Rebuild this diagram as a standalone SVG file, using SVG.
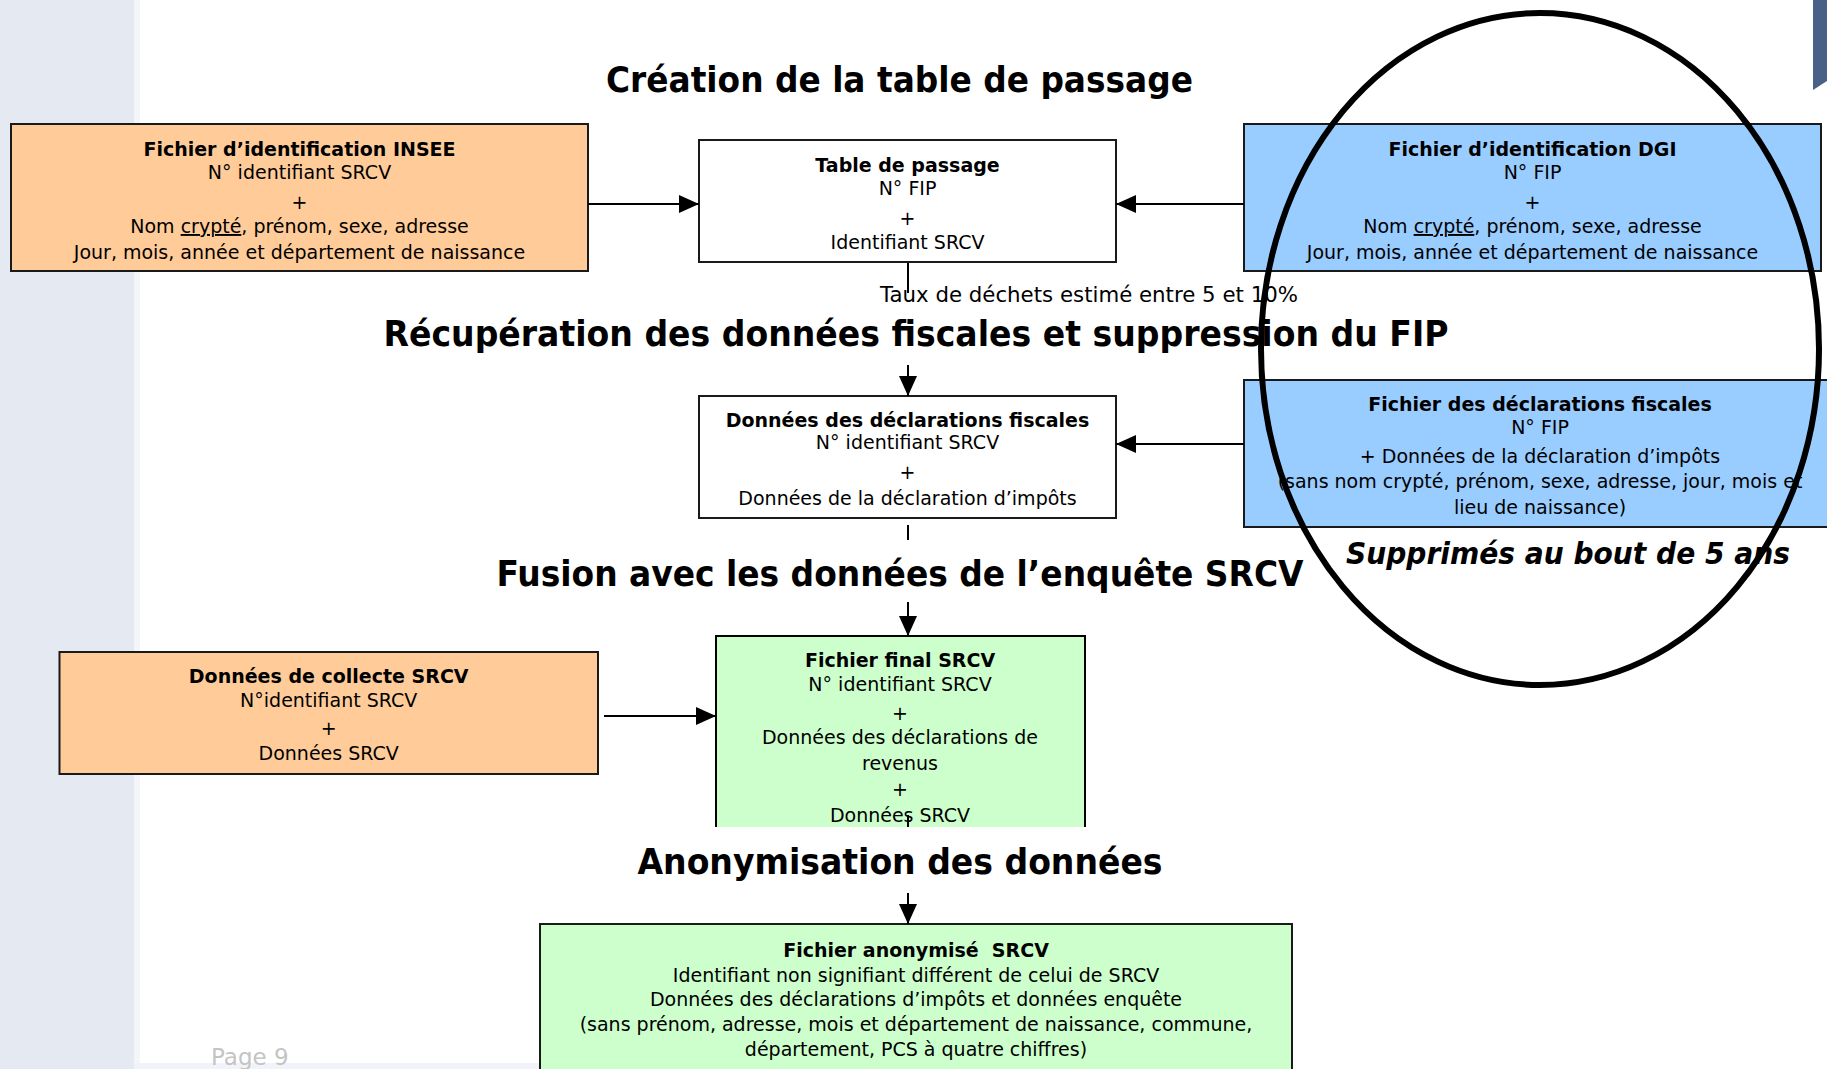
<svg xmlns="http://www.w3.org/2000/svg" width="1827" height="1069" viewBox="0 0 1827 1069">
<defs>
<style>
.box{stroke:#1a1a1a;stroke-width:2}
.orange{fill:#ffcc99}
.blue{fill:#99ccff}
.green{fill:#ccffcc}
.white{fill:#ffffff}
.t{font-family:"DejaVu Sans",Verdana,sans-serif;font-size:19px;fill:#000;text-anchor:middle}
.b{font-weight:bold}
.h{font-family:"DejaVu Sans",Verdana,sans-serif;font-size:35px;font-weight:bold;fill:#000;text-anchor:middle}
.conn{stroke:#000;stroke-width:2;fill:none}
.u{text-decoration:underline}
</style>
<marker id="arr" markerUnits="userSpaceOnUse" markerWidth="20" markerHeight="20" refX="20" refY="9" orient="auto">
<path d="M0,0 L20,9 L0,18 z" fill="#000"/>
</marker>
</defs>
<rect x="0" y="0" width="1827" height="1069" fill="#ffffff"/>
<rect x="0" y="0" width="134" height="1069" fill="#e5e9f2"/>
<rect x="134" y="0" width="6" height="1069" fill="#f3f5f9"/>
<rect x="134" y="1063" width="406" height="6" fill="#f0f4fa"/>
<polygon points="1813,0 1827,0 1827,81 1813,90" fill="#4a6187"/>

<text class="h" x="899.5" y="92" textLength="587" lengthAdjust="spacingAndGlyphs">Création de la table de passage</text>
<text class="h" x="916" y="346" textLength="1065" lengthAdjust="spacingAndGlyphs">Récupération des données fiscales et suppression du FIP</text>
<text class="h" x="900" y="586" textLength="807" lengthAdjust="spacingAndGlyphs">Fusion avec les données de l’enquête SRCV</text>
<text class="h" x="900" y="874" textLength="525" lengthAdjust="spacingAndGlyphs">Anonymisation des données</text>

<g id="insee">
<rect class="box orange" x="11" y="124" width="577" height="147"/>
<text class="t b" x="299.5" y="156">Fichier d’identification INSEE</text>
<text class="t" x="299.5" y="179">N° identifiant SRCV</text>
<text class="t" x="299.5" y="209">+</text>
<text class="t" x="299.5" y="233">Nom <tspan class="u">crypté</tspan>, prénom, sexe, adresse</text>
<text class="t" x="299.5" y="259">Jour, mois, année et département de naissance</text>
</g>

<g id="table">
<rect class="box white" x="699" y="140" width="417" height="122"/>
<text class="t b" x="907.5" y="172">Table de passage</text>
<text class="t" x="907.5" y="195">N° FIP</text>
<text class="t" x="907.5" y="225">+</text>
<text class="t" x="907.5" y="249">Identifiant SRCV</text>
</g>

<g id="dgi">
<rect class="box blue" x="1244" y="124" width="577" height="147"/>
<text class="t b" x="1532.5" y="156">Fichier d’identification DGI</text>
<text class="t" x="1532.5" y="179">N° FIP</text>
<text class="t" x="1532.5" y="209">+</text>
<text class="t" x="1532.5" y="233">Nom <tspan class="u">crypté</tspan>, prénom, sexe, adresse</text>
<text class="t" x="1532.5" y="259">Jour, mois, année et département de naissance</text>
</g>

<g id="taux">
<text x="880" y="302" font-family="DejaVu Sans, Verdana, sans-serif" font-size="22" textLength="418" lengthAdjust="spacingAndGlyphs" fill="#000">Taux de déchets estimé entre 5 et 10%</text>
</g>

<g id="donnees">
<rect class="box white" x="699" y="396" width="417" height="122"/>
<text class="t b" x="907.5" y="427">Données des déclarations fiscales</text>
<text class="t" x="907.5" y="449">N° identifiant SRCV</text>
<text class="t" x="907.5" y="479">+</text>
<text class="t" x="907.5" y="505">Données de la déclaration d’impôts</text>
</g>

<g id="declarations">
<rect class="box blue" x="1244" y="380" width="600" height="147"/>
<text class="t b" x="1540" y="411">Fichier des déclarations fiscales</text>
<text class="t" x="1540" y="434">N° FIP</text>
<text class="t" x="1540" y="463">+ Données de la déclaration d’impôts</text>
<text class="t" x="1540" y="488">(sans nom crypté, prénom, sexe, adresse, jour, mois et</text>
<text class="t" x="1540" y="514">lieu de naissance)</text>
</g>

<g id="collecte">
<rect class="box orange" x="59.5" y="652" width="538.5" height="122"/>
<text class="t b" x="328.7" y="683">Données de collecte SRCV</text>
<text class="t" x="328.7" y="707">N°identifiant SRCV</text>
<text class="t" x="328.7" y="735">+</text>
<text class="t" x="328.7" y="760">Données SRCV</text>
</g>

<g id="final">
<rect class="green" x="716" y="636" width="369" height="191"/>
<path class="conn" d="M716,827 L716,636 L1085,636 L1085,827" stroke="#1a1a1a"/>
<text class="t b" x="900" y="667">Fichier final SRCV</text>
<text class="t" x="900" y="691">N° identifiant SRCV</text>
<text class="t" x="900" y="720">+</text>
<text class="t" x="900" y="744">Données des déclarations de</text>
<text class="t" x="900" y="770">revenus</text>
<text class="t" x="900" y="796">+</text>
<text class="t" x="900" y="822">Données SRCV</text>
</g>

<g id="anonymise">
<rect class="box green" x="540" y="924" width="752" height="160"/>
<text class="t b" x="916" y="957" xml:space="preserve">Fichier anonymisé  SRCV</text>
<text class="t" x="916" y="982">Identifiant non signifiant différent de celui de SRCV</text>
<text class="t" x="916" y="1006">Données des déclarations d’impôts et données enquête</text>
<text class="t" x="916" y="1031">(sans prénom, adresse, mois et département de naissance, commune,</text>
<text class="t" x="916" y="1056">département, PCS à quatre chiffres)</text>
</g>

<g id="connectors">
<line class="conn" x1="588" y1="204" x2="699" y2="204" marker-end="url(#arr)"/>
<line class="conn" x1="1244" y1="204" x2="1116" y2="204" marker-end="url(#arr)"/>
<line class="conn" x1="908" y1="263" x2="908" y2="293"/>
<line class="conn" x1="908" y1="365" x2="908" y2="396" marker-end="url(#arr)"/>
<line class="conn" x1="1244" y1="444" x2="1116" y2="444" marker-end="url(#arr)"/>
<line class="conn" x1="908" y1="525" x2="908" y2="540"/>
<line class="conn" x1="908" y1="602" x2="908" y2="636" marker-end="url(#arr)"/>
<line class="conn" x1="604" y1="716" x2="716" y2="716" marker-end="url(#arr)"/>
<line class="conn" x1="908" y1="815" x2="908" y2="827"/>
<line class="conn" x1="908" y1="893" x2="908" y2="924" marker-end="url(#arr)"/>
</g>

<g id="note">
<text x="1568" y="564" font-family="DejaVu Sans, Verdana, sans-serif" font-size="30" font-weight="bold" font-style="italic" text-anchor="middle" textLength="444" lengthAdjust="spacingAndGlyphs" fill="#000">Supprimés au bout de 5 ans</text>
<ellipse cx="1540" cy="349" rx="279" ry="336" fill="none" stroke="#000" stroke-width="6"/>
</g>

<text x="211" y="1065" font-family="DejaVu Sans, Verdana, sans-serif" font-size="23" fill="#c4c4c4">Page 9</text>
</svg>
